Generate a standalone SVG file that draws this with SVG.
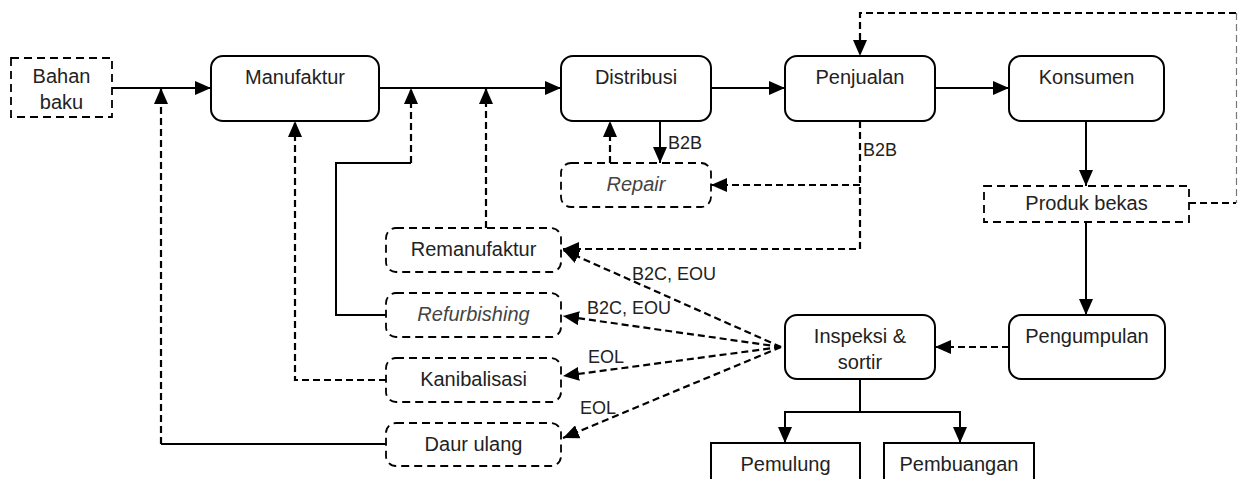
<svg xmlns="http://www.w3.org/2000/svg" width="1238" height="479" viewBox="0 0 1238 479">
  <style>
    .node { fill: #fff; stroke: #000; stroke-width: 2; }
    .dnode { fill: #fff; stroke: #000; stroke-width: 1.8; stroke-dasharray: 8 5; }
    .t { font-family: "Liberation Sans", Arial, sans-serif; font-size: 20px; fill: #222; text-anchor: middle; }
    .ti { font-family: "Liberation Sans", Arial, sans-serif; font-size: 20px; fill: #444; font-style: italic; text-anchor: middle; }
    .lbl { font-family: "Liberation Sans", Arial, sans-serif; font-size: 18px; fill: #222; }
    .c { fill: none; stroke: #000; stroke-width: 2; }
    .cd { fill: none; stroke: #000; stroke-width: 2.2; stroke-dasharray: 7 4; }
  </style>
  <defs>
    <marker id="ah" markerUnits="userSpaceOnUse" markerWidth="16" markerHeight="14" refX="16" refY="7" orient="auto">
      <path d="M0,0 L16,7 L0,14 z" fill="#000"/>
    </marker>
  </defs>
  <rect width="1238" height="479" fill="#fff"/>

  <g id="connectors">
    <!-- main flow -->
    <line class="c" x1="112" y1="88" x2="211" y2="88" marker-end="url(#ah)"/>
    <line class="c" x1="379" y1="88" x2="561" y2="88" marker-end="url(#ah)"/>
    <line class="c" x1="711" y1="88" x2="785" y2="88" marker-end="url(#ah)"/>
    <line class="c" x1="935" y1="88" x2="1009" y2="88" marker-end="url(#ah)"/>
    <line class="c" x1="1086" y1="121" x2="1086" y2="186" marker-end="url(#ah)"/>
    <line class="c" x1="1086" y1="222" x2="1086" y2="315" marker-end="url(#ah)"/>
    <line class="cd" x1="1009" y1="347" x2="935" y2="347" marker-end="url(#ah)"/>
    <!-- Distribusi <-> Repair -->
    <line class="c" x1="660" y1="121" x2="660" y2="163" marker-end="url(#ah)"/>
    <line class="cd" x1="610" y1="163" x2="610" y2="121" marker-end="url(#ah)"/>
    <!-- Penjualan B2B -->
    <polyline class="cd" points="860,121 860,249 563,249" marker-end="url(#ah)"/>
    <line class="cd" x1="860" y1="185" x2="711" y2="185" marker-end="url(#ah)"/>
    <!-- Produk bekas feedback -->
    <polyline class="cd" points="1189,203 1236,203"/>
    <line x1="1236.5" y1="13" x2="1236.5" y2="203" stroke="#777" stroke-width="1.2" stroke-dasharray="7 4"/>
    <polyline class="cd" points="1236,13 860,13 860,56" marker-end="url(#ah)"/>
    <!-- Inspeksi fan -->
    <line class="cd" x1="781" y1="347" x2="563" y2="250" marker-end="url(#ah)"/>
    <line class="cd" x1="781" y1="347" x2="563" y2="316" marker-end="url(#ah)"/>
    <line class="cd" x1="781" y1="347" x2="563" y2="376" marker-end="url(#ah)"/>
    <line class="cd" x1="781" y1="347" x2="563" y2="438" marker-end="url(#ah)"/>
    <!-- Inspeksi to Pemulung / Pembuangan -->
    <polyline class="c" points="860,379 860,412"/>
    <polyline class="c" points="785,443 785,412 960,412 960,443"/>
    <line class="c" x1="785" y1="420" x2="785" y2="443" marker-end="url(#ah)"/>
    <line class="c" x1="960" y1="420" x2="960" y2="443" marker-end="url(#ah)"/>
    <!-- returns to the left -->
    <line class="cd" x1="486" y1="228" x2="486" y2="88" marker-end="url(#ah)"/>
    <polyline class="c" points="386,315 336,315 336,163 411,163"/>
    <line class="cd" x1="411" y1="163" x2="411" y2="88" marker-end="url(#ah)"/>
    <polyline class="cd" points="386,380 295,380 295,121" marker-end="url(#ah)"/>
    <polyline class="c" points="386,444 161,444"/>
    <line class="cd" x1="161" y1="444" x2="161" y2="88" marker-end="url(#ah)"/>
    <!-- labels -->
    <text class="lbl" x="668" y="149">B2B</text>
    <text class="lbl" x="863" y="156">B2B</text>
    <text class="lbl" x="632" y="280">B2C, EOU</text>
    <text class="lbl" x="587" y="314">B2C, EOU</text>
    <text class="lbl" x="588" y="363">EOL</text>
    <text class="lbl" x="580" y="414">EOL</text>
  </g>

  <g id="bahan-baku">
    <rect class="dnode" x="11" y="58" width="101" height="59"/>
    <text class="t" x="61.5" y="83">Bahan</text>
    <text class="t" x="61.5" y="109">baku</text>
  </g>
  <g id="manufaktur">
    <rect class="node" x="211" y="56" width="168" height="65" rx="12"/>
    <text class="t" x="295" y="84">Manufaktur</text>
  </g>
  <g id="distribusi">
    <rect class="node" x="561" y="56" width="150" height="65" rx="12"/>
    <text class="t" x="636" y="84">Distribusi</text>
  </g>
  <g id="penjualan">
    <rect class="node" x="785" y="56" width="150" height="65" rx="12"/>
    <text class="t" x="860" y="84">Penjualan</text>
  </g>
  <g id="konsumen">
    <rect class="node" x="1009" y="56" width="155" height="65" rx="12"/>
    <text class="t" x="1086.5" y="84">Konsumen</text>
  </g>
  <g id="repair">
    <rect class="dnode" x="561" y="163" width="150" height="44" rx="10"/>
    <text class="ti" x="636" y="191">Repair</text>
  </g>
  <g id="produk-bekas">
    <rect class="dnode" x="984" y="186" width="205" height="36"/>
    <text class="t" x="1086.5" y="210">Produk bekas</text>
  </g>
  <g id="remanufaktur">
    <rect class="dnode" x="386" y="228" width="175" height="44" rx="10"/>
    <text class="t" x="473.5" y="256">Remanufaktur</text>
  </g>
  <g id="refurbishing">
    <rect class="dnode" x="386" y="293" width="175" height="44" rx="10"/>
    <text class="ti" x="473.5" y="321">Refurbishing</text>
  </g>
  <g id="kanibalisasi">
    <rect class="dnode" x="386" y="358" width="175" height="44" rx="10"/>
    <text class="t" x="473.5" y="386">Kanibalisasi</text>
  </g>
  <g id="daur-ulang">
    <rect class="dnode" x="386" y="423" width="175" height="43" rx="10"/>
    <text class="t" x="473.5" y="451">Daur ulang</text>
  </g>
  <g id="inspeksi">
    <rect class="node" x="785" y="315" width="150" height="64" rx="12"/>
    <text class="t" x="860" y="343">Inspeksi &amp;</text>
    <text class="t" x="860" y="369">sortir</text>
  </g>
  <g id="pengumpulan">
    <rect class="node" x="1009" y="315" width="156" height="64" rx="12"/>
    <text class="t" x="1087" y="343">Pengumpulan</text>
  </g>
  <g id="pemulung">
    <rect class="node" x="711" y="443" width="149" height="50"/>
    <text class="t" x="785.5" y="471">Pemulung</text>
  </g>
  <g id="pembuangan">
    <rect class="node" x="884" y="443" width="150" height="50"/>
    <text class="t" x="959" y="471">Pembuangan</text>
  </g>
</svg>
